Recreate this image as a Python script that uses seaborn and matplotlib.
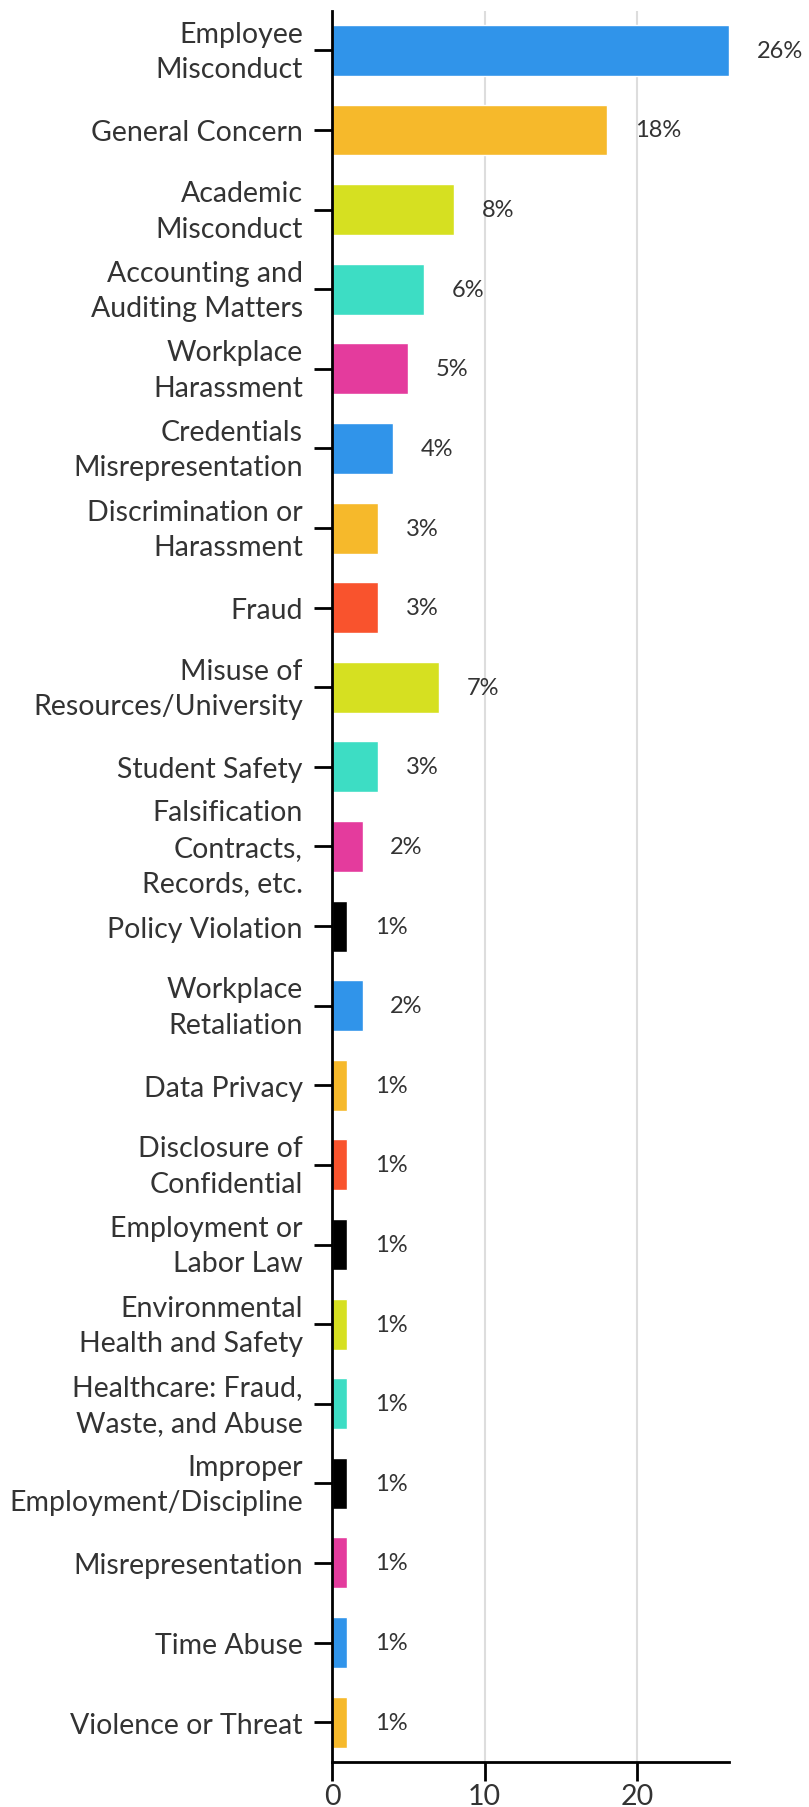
import matplotlib
matplotlib.use("Agg")
import matplotlib.pyplot as plt
import matplotlib.transforms as mtransforms
import seaborn as sns
import pandas as pd

categories = [
    "Employee\nMisconduct",
    "General Concern",
    "Academic\nMisconduct",
    "Accounting and\nAuditing Matters",
    "Workplace\nHarassment",
    "Credentials\nMisrepresentation",
    "Discrimination or\nHarassment",
    "Fraud",
    "Misuse of\nResources/University",
    "Student Safety",
    "Falsification\nContracts,\nRecords, etc.",
    "Policy Violation",
    "Workplace\nRetaliation",
    "Data Privacy",
    "Disclosure of\nConfidential",
    "Employment or\nLabor Law",
    "Environmental\nHealth and Safety",
    "Healthcare: Fraud,\nWaste, and Abuse",
    "Improper\nEmployment/Discipline",
    "Misrepresentation",
    "Time Abuse",
    "Violence or Threat",
]
values = [26, 18, 8, 6, 5, 4, 3, 3, 7, 3, 2, 1, 2, 1, 1, 1, 1, 1, 1, 1, 1, 1]
bar_colors = [
    "#3094EA", "#F6B92B", "#D6E021", "#3DDDC4", "#E43B9D", "#3094EA",
    "#F6B92B", "#F9532D", "#D6E021", "#3DDDC4", "#E43B9D", "#000000",
    "#3094EA", "#F6B92B", "#F9532D", "#000000", "#D6E021", "#3DDDC4",
    "#000000", "#E43B9D", "#3094EA", "#F6B92B",
]
x_ticks = [0, 10, 20]

df = pd.DataFrame({"category": categories, "value": values})

sns.set_theme(style="white")
plt.rcParams["font.family"] = ["Lato", "DejaVu Sans"]
text_color = "#333333"

fig = plt.figure(figsize=(8.09, 18.08), dpi=100)
ax = fig.add_axes([0.4104, 0.0249, 0.4907, 0.9687])

sns.barplot(
    data=df, x="value", y="category", hue="category",
    palette=bar_colors, orient="h", width=0.64, legend=False,
    saturation=1, ax=ax,
)

ax.set_xlim(0, max(values))
ax.set_ylim(len(categories) - 0.5, -0.5)
ax.set_xticks(x_ticks)
ax.set_xticklabels([str(t) for t in x_ticks], fontsize=20.5, color=text_color)
ax.set_yticks(range(len(categories)))
ax.set_yticklabels(categories, fontsize=20.5, color=text_color, linespacing=1.45)
ax.set_xlabel("")
ax.set_ylabel("")

ax.xaxis.grid(True, color="#dddddd", linewidth=1.5)
ax.set_axisbelow(True)
for side in ("top", "right"):
    ax.spines[side].set_visible(False)
for side in ("left", "bottom"):
    ax.spines[side].set_color("black")
    ax.spines[side].set_linewidth(2)
ax.tick_params(axis="y", length=13, width=2, color="black", pad=8, left=True)
ax.tick_params(axis="x", length=14, width=2, color="black", pad=1, bottom=True)

# nudge wrapped category labels up so each block sits centred on its bar
lift = mtransforms.ScaledTranslation(0, 0.06, fig.dpi_scale_trans)
for lbl in ax.get_yticklabels():
    if "\n" in lbl.get_text():
        lbl.set_transform(lbl.get_transform() + lift)

for i, v in enumerate(values):
    ax.annotate(f"{v}%", xy=(v, i), xytext=(20, 0), textcoords="offset points",
                ha="left", va="center", fontsize=17, color=text_color,
                annotation_clip=False)

fig.savefig("out.png", dpi=100)
